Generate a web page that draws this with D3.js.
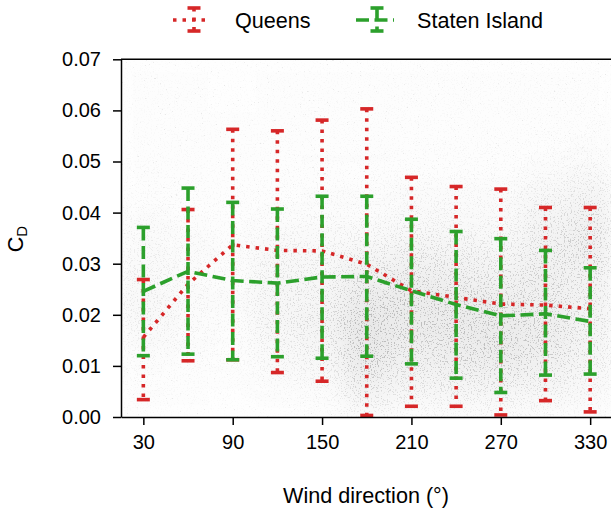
<!DOCTYPE html>
<html>
<head>
<meta charset="utf-8">
<title>Drag coefficient by wind direction</title>
<script src="https://cdn.jsdelivr.net/npm/d3@7"></script>
<style>
  body { margin: 0; background: #fff; }
  svg { display: block; font-family: "Liberation Sans", Arial, Helvetica, sans-serif; }
  .axis text { font-size: 20px; fill: #000; }
  .axis path, .axis line { stroke: #000; stroke-width: 1.5; }
  .label { font-size: 21.6px; fill: #000; }
</style>
</head>
<body>
<script>
  var w = 611, h = 510;

  // wind direction bins (degrees)
  var directions = [30, 60, 90, 120, 150, 180, 210, 240, 270, 300, 330];

  // Queens: mean and error bar ends
  var queensMean = [0.0156, 0.0260, 0.0337, 0.0326, 0.0325, 0.0299, 0.0247, 0.0234, 0.0221, 0.0219, 0.0212];
  var queensLow  = [0.0034, 0.0110, 0.0112, 0.0087, 0.0070, 0.0003, 0.0021, 0.0021, 0.0004, 0.0032, 0.0010];
  var queensHigh = [0.0269, 0.0406, 0.0563, 0.0560, 0.0581, 0.0603, 0.0469, 0.0451, 0.0446, 0.0410, 0.0410];

  // Staten Island: mean and error bar ends
  var statenMean = [0.0246, 0.0285, 0.0267, 0.0262, 0.0274, 0.0275, 0.0247, 0.0220, 0.0198, 0.0202, 0.0187];
  var statenLow  = [0.0120, 0.0123, 0.0112, 0.0118, 0.0115, 0.0119, 0.0104, 0.0076, 0.0048, 0.0082, 0.0084];
  var statenHigh = [0.0371, 0.0448, 0.0420, 0.0407, 0.0432, 0.0432, 0.0387, 0.0363, 0.0349, 0.0326, 0.0292];

  var xTicks = [30, 90, 150, 210, 270, 330];
  var yTicks = [0, 0.01, 0.02, 0.03, 0.04, 0.05, 0.06, 0.07];

  // background cloud of raw samples, read as a density per bin
  // columns follow directions, rows go from C_D 0.0675 down to 0.0025
  var cloudLevels = [0.0675, 0.0625, 0.0575, 0.0525, 0.0475, 0.0425, 0.0375, 0.0325, 0.0275, 0.0225, 0.0175, 0.0125, 0.0075, 0.0025];
  var cloudDensity = [
    [.05,.05,.05,.06,.07,.09,.13,.18,.22,.24,.20,.14,.09,.06],
    [.05,.05,.05,.06,.07,.08,.10,.13,.15,.16,.14,.10,.07,.05],
    [.04,.04,.05,.05,.06,.07,.08,.10,.11,.12,.11,.09,.06,.04],
    [.05,.05,.05,.06,.07,.09,.14,.22,.30,.32,.30,.22,.12,.06],
    [.05,.05,.06,.06,.08,.10,.15,.22,.30,.36,.38,.32,.18,.08],
    [.05,.05,.06,.06,.08,.10,.16,.30,.50,.68,.80,.75,.55,.30],
    [.06,.06,.06,.07,.09,.13,.22,.40,.58,.70,.68,.55,.38,.18],
    [.06,.06,.06,.07,.09,.13,.20,.36,.52,.65,.70,.60,.42,.20],
    [.06,.06,.06,.07,.09,.12,.18,.30,.46,.60,.70,.68,.48,.22],
    [.06,.06,.07,.08,.13,.26,.38,.48,.52,.54,.60,.58,.40,.18],
    [.06,.07,.08,.10,.20,.38,.50,.55,.48,.42,.42,.36,.24,.12]
  ];

  var red = "#d62728", green = "#2ca02c";

  var x = d3.scaleLinear().domain([15, 345]).range([121, 612.5]);
  var y = d3.scaleLinear().domain([0, 0.07]).range([417, 59.3]);

  var svg = d3.select("body").append("svg")
              .attr("width", w)
              .attr("height", h);

  var defs = svg.append("defs");

  defs.append("clipPath").attr("id", "plot-clip")
      .append("rect")
      .attr("x", x.range()[0]).attr("y", y.range()[1])
      .attr("width", x.range()[1] - x.range()[0])
      .attr("height", y.range()[0] - y.range()[1]);

  defs.append("filter").attr("id", "soft")
      .attr("x", "-20%").attr("y", "-20%").attr("width", "140%").attr("height", "140%")
      .append("feGaussianBlur").attr("stdDeviation", 11);

  function speckle(id, freq, seed, gain, cut, grey) {
    var f = defs.append("filter").attr("id", id)
                .attr("x", 0).attr("y", 0).attr("width", 1).attr("height", 1);
    f.append("feTurbulence")
      .attr("type", "fractalNoise")
      .attr("baseFrequency", freq)
      .attr("numOctaves", 2)
      .attr("seed", seed);
    f.append("feColorMatrix")
      .attr("type", "matrix")
      .attr("values", "0 0 0 0 " + grey + " 0 0 0 0 " + grey + " 0 0 0 0 " + grey + " " + gain + " 0 0 0 " + (-cut));
  }
  speckle("dots-sparse", 0.55, 11, 16, 12.0, 0.55);
  speckle("dots-dense", 0.7, 4, 12, 7.0, 0.35);

  var bw = x(45) - x(15), bh = y(0) - y(0.005);

  function cloudCells(g, fill, scale) {
    directions.forEach(function (d, i) {
      g.selectAll(null)
        .data(cloudLevels)
        .enter().append("rect")
        .attr("x", x(d) - bw / 2)
        .attr("y", function (c) { return y(c) - bh / 2; })
        .attr("width", bw)
        .attr("height", bh)
        .attr("fill", fill)
        .attr("fill-opacity", function (c, j) { return Math.min(1, cloudDensity[i][j] * scale); });
    });
  }

  var mask = defs.append("mask").attr("id", "cloud-mask")
                 .attr("maskUnits", "userSpaceOnUse")
                 .attr("x", 0).attr("y", 0).attr("width", w).attr("height", h);
  cloudCells(mask.append("g").attr("filter", "url(#soft)"), "#fff", 1.25);

  var cloud = svg.append("g").attr("clip-path", "url(#plot-clip)");
  cloudCells(cloud.append("g").attr("filter", "url(#soft)"), "#9a9a9a", 0.28);

  cloud.append("rect")
    .attr("x", x.range()[0]).attr("y", y.range()[1])
    .attr("width", x.range()[1] - x.range()[0])
    .attr("height", y.range()[0] - y.range()[1])
    .attr("filter", "url(#dots-sparse)")
    .attr("opacity", 0.3);

  cloud.append("rect")
    .attr("x", x.range()[0]).attr("y", y.range()[1])
    .attr("width", x.range()[1] - x.range()[0])
    .attr("height", y.range()[0] - y.range()[1])
    .attr("filter", "url(#dots-dense)")
    .attr("mask", "url(#cloud-mask)")
    .attr("opacity", 0.7);

  // error bars with connecting mean line
  var series = [
    { name: "Queens", color: red, dash: "3.5,6", mean: queensMean, low: queensLow, high: queensHigh },
    { name: "Staten Island", color: green, dash: "13,5.5", mean: statenMean, low: statenLow, high: statenHigh }
  ];

  var capHalf = 6.5, lw = 3.6;

  var lineFun = d3.line()
                  .x(function (d) { return x(d[0]); })
                  .y(function (d) { return y(d[1]); });

  series.forEach(function (s) {
    var g = svg.append("g").attr("class", "series");
    var rows = directions.map(function (d, i) { return { dir: d, lo: s.low[i], hi: s.high[i] }; });

    g.selectAll("line.bar").data(rows).enter().append("line")
      .attr("class", "bar")
      .attr("x1", function (d) { return x(d.dir); })
      .attr("x2", function (d) { return x(d.dir); })
      .attr("y1", function (d) { return y(d.hi); })
      .attr("y2", function (d) { return y(d.lo); })
      .attr("stroke", s.color)
      .attr("stroke-width", lw)
      .attr("stroke-dasharray", s.dash);

    ["lo", "hi"].forEach(function (k) {
      g.selectAll("line.cap-" + k).data(rows).enter().append("line")
        .attr("class", "cap-" + k)
        .attr("x1", function (d) { return x(d.dir) - capHalf; })
        .attr("x2", function (d) { return x(d.dir) + capHalf; })
        .attr("y1", function (d) { return y(d[k]); })
        .attr("y2", function (d) { return y(d[k]); })
        .attr("stroke", s.color)
        .attr("stroke-width", lw);
    });

    g.append("path")
      .datum(directions.map(function (d, i) { return [d, s.mean[i]]; }))
      .attr("d", lineFun)
      .attr("fill", "none")
      .attr("stroke", s.color)
      .attr("stroke-width", lw)
      .attr("stroke-dasharray", s.dash);
  });

  // axes
  svg.append("g")
     .attr("class", "axis x-axis")
     .attr("transform", "translate(0," + y(0) + ")")
     .call(d3.axisBottom(x).tickValues(xTicks).tickSize(8).tickPadding(10).tickSizeOuter(0));

  svg.append("g")
     .attr("class", "axis y-axis")
     .attr("transform", "translate(" + x.range()[0] + ",0)")
     .call(d3.axisLeft(y).tickValues(yTicks).tickFormat(d3.format(".2f")).tickSize(8).tickPadding(12).tickSizeOuter(0));

  svg.append("line")
     .attr("x1", x.range()[0]).attr("x2", x.range()[1])
     .attr("y1", y.range()[1]).attr("y2", y.range()[1])
     .attr("stroke", "#000").attr("stroke-width", 1.5);
  svg.append("line")
     .attr("x1", x.range()[1]).attr("x2", x.range()[1])
     .attr("y1", y.range()[1]).attr("y2", y.range()[0])
     .attr("stroke", "#000").attr("stroke-width", 1.5);

  svg.append("text")
     .attr("class", "label")
     .attr("x", 366)
     .attr("y", 503)
     .attr("text-anchor", "middle")
     .text("Wind direction (°)");

  var yl = svg.append("text")
     .attr("class", "label")
     .attr("transform", "translate(23,239) rotate(-90)")
     .attr("text-anchor", "middle");
  yl.append("tspan").text("C");
  yl.append("tspan").attr("font-size", 15).attr("dy", 4).text("D");

  // legend
  var legendPos = [{ cx: 192, tx: 235 }, { cx: 375, tx: 417 }];
  series.forEach(function (s, i) {
    var p = legendPos[i];
    var g = svg.append("g").attr("class", "legend");
    g.append("line")
      .attr("x1", p.cx - 19).attr("x2", p.cx + 19)
      .attr("y1", 20).attr("y2", 20)
      .attr("stroke", s.color).attr("stroke-width", lw).attr("stroke-dasharray", s.dash);
    g.append("line")
      .attr("x1", p.cx + 2).attr("x2", p.cx + 2)
      .attr("y1", 8).attr("y2", 31)
      .attr("stroke", s.color).attr("stroke-width", lw).attr("stroke-dasharray", s.dash);
    [8, 31].forEach(function (cy) {
      g.append("line")
        .attr("x1", p.cx + 2 - capHalf).attr("x2", p.cx + 2 + capHalf)
        .attr("y1", cy).attr("y2", cy)
        .attr("stroke", s.color).attr("stroke-width", lw);
    });
    g.append("text")
      .attr("class", "label")
      .attr("x", p.tx)
      .attr("y", 27.5)
      .text(s.name);
  });
</script>
</body>
</html>
